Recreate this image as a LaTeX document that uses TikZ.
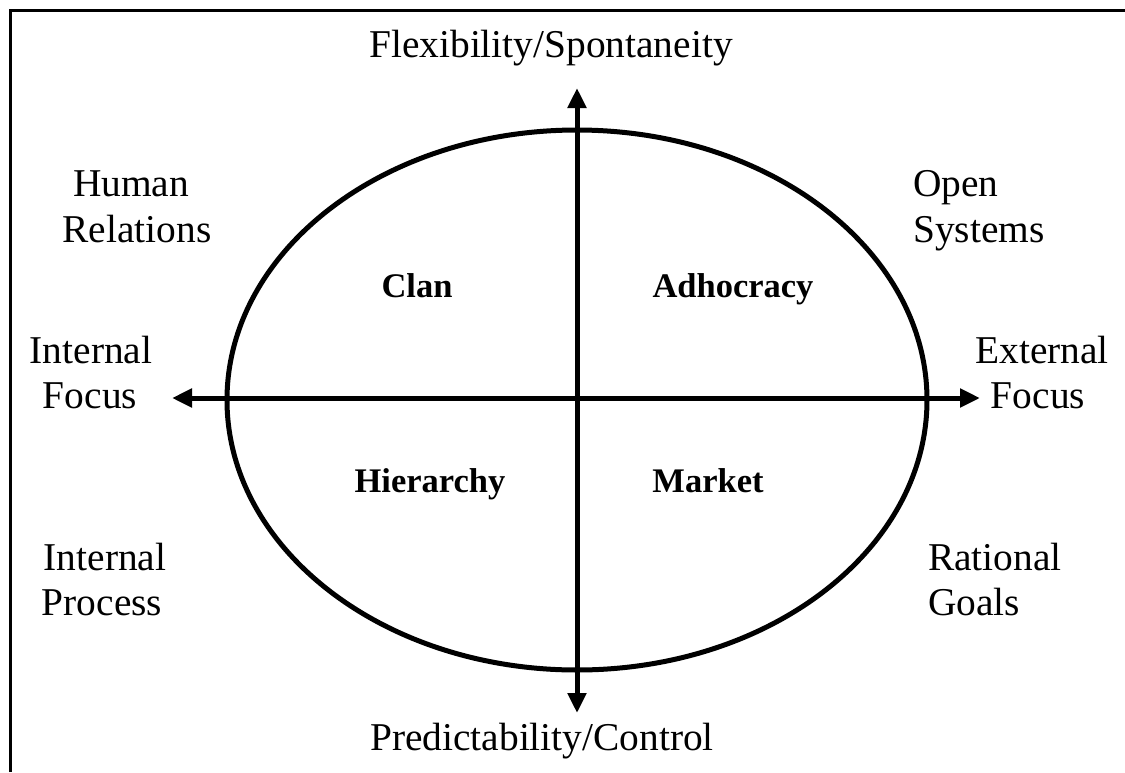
\documentclass[tikz,border=0pt]{standalone}
\usepackage{fontspec}
\setmainfont{Liberation Serif}
\usetikzlibrary{arrows.meta}
\begin{document}
\begin{tikzpicture}[x=1pt,y=-1pt,
  lbl/.style={font=\fontsize{39.4}{46}\selectfont, inner sep=0pt, anchor=base},
  lblw/.style={lbl, anchor=base west},
  qlbl/.style={font=\fontsize{34.5}{38}\selectfont\bfseries, inner sep=0pt, anchor=base},
  tip/.tip={Triangle[length=20pt,width=18pt]},
  axisline/.style={line width=5pt, tip-tip},
]
\useasboundingbox (0,0) rectangle (1125,772);
\draw[line width=3pt] (10.5,772) -- (10.5,10.5) -- (1125,10.5);
\draw[line width=5pt] (577,400) ellipse [x radius=350, y radius=270];
\coordinate (top) at (577,88);
\coordinate (bot) at (577,713);
\coordinate (lft) at (172,398);
\coordinate (rgt) at (980,398);
\draw[axisline] (bot) -- (top);
\draw[axisline] (lft) -- (rgt);
\node[lbl] (flex) at (551,57) {Flexibility/Spontaneity};
\node[lbl] (pred) at (542,750) {Predictability/Control};
\node[lbl] (hr1) at (131,196) {Human};
\node[lbl] (hr2) at (137,242) {Relations};
\node[lblw] (os1) at (913,196) {Open};
\node[lblw] (os2) at (913,242) {Systems};
\node[lbl] (if1) at (91,363) {Internal};
\node[lbl] (if2) at (90,408) {Focus};
\node[lbl] (ef1) at (1042,363) {External};
\node[lbl] (ef2) at (1038,408) {Focus};
\node[lbl] (ip1) at (105,570) {Internal};
\node[lbl] (ip2) at (102,615) {Process};
\node[lblw] (rg1) at (928,570) {Rational};
\node[lblw] (rg2) at (928,615) {Goals};
\node[qlbl] (clan) at (417,297) {Clan};
\node[qlbl] (adho) at (733,297) {Adhocracy};
\node[qlbl] (hier) at (430,492) {Hierarchy};
\node[qlbl] (mark) at (708,492) {Market};
\end{tikzpicture}
\end{document}
